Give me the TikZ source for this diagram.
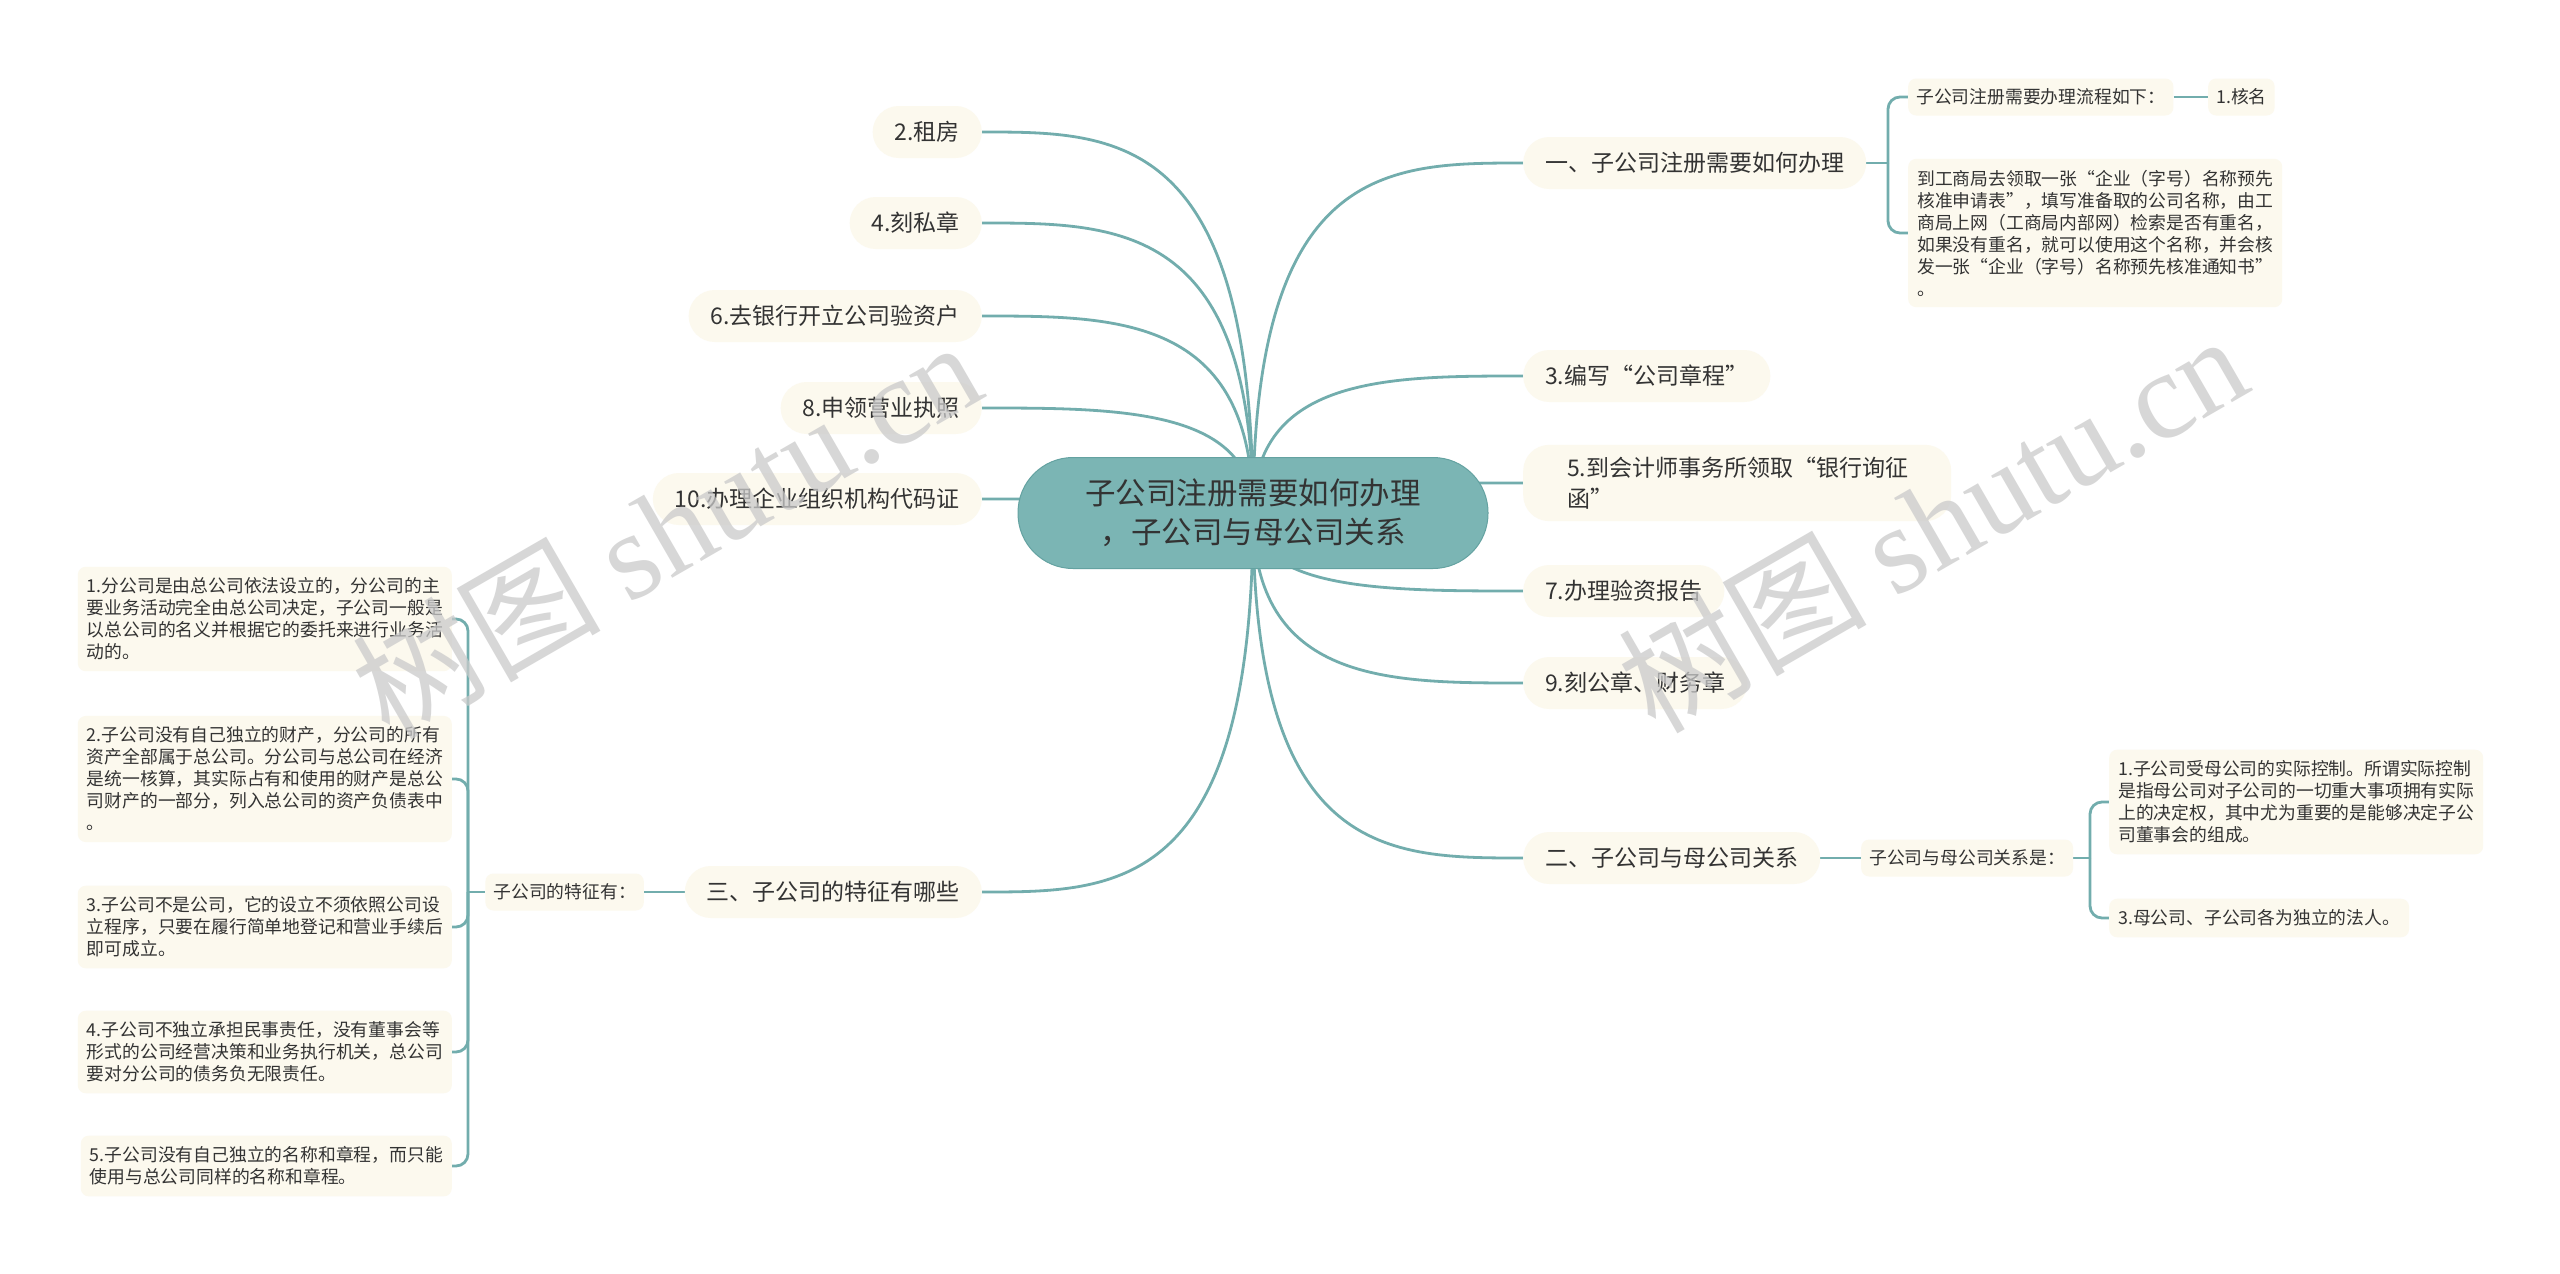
\documentclass[tikz,border=0pt]{standalone}
\usepackage{fontspec}
\setmainfont{Noto Sans CJK SC}
\newfontfamily\wmlatin{Liberation Serif}
\usetikzlibrary{calc,backgrounds}
\definecolor{lineteal}{HTML}{72ADAD}
\definecolor{rootfill}{HTML}{7BB5B4}
\definecolor{rootedge}{HTML}{64A2A1}
\definecolor{cream}{HTML}{FCF9EE}
\definecolor{ink}{HTML}{333333}
\definecolor{wmgray}{HTML}{CACACA}
\tikzset{
  rootnode/.style={fill=rootfill,draw=rootedge,line width=1pt,rounded corners=55pt,
    minimum width=470pt,minimum height=111pt,align=center,text=ink,
    font=\fontsize{30.5}{39}\selectfont},
  topic/.style={fill=cream,rounded corners=26pt,minimum height=52pt,inner xsep=22pt,
    inner ysep=0pt,text=ink,font=\fontsize{23}{31}\selectfont},
  tag/.style={fill=cream,rounded corners=8pt,minimum height=37pt,inner xsep=8pt,
    inner ysep=0pt,text=ink,font=\fontsize{17.8}{22}\selectfont},
  leaf/.style={fill=cream,rounded corners=8pt,inner xsep=9pt,inner ysep=11pt,
    align=left,text=ink,font=\fontsize{17.8}{22}\selectfont},
  branch/.style={draw=lineteal,line width=2.8pt},
  brace/.style={branch,rounded corners=12pt},
  twig/.style={to path={.. controls (\tikztostart |- \tikztotarget)
    and ($(\tikztostart |- \tikztotarget)!.5!(\tikztotarget)$) .. (\tikztotarget)}},
  wmark/.style={text=wmgray,opacity=.75,rotate=30,font=\fontsize{124}{124}\selectfont}
}
\begin{document}
\begin{tikzpicture}[x=1pt,y=-1pt]
\useasboundingbox (0,0) rectangle (2560,1274);
\node[rootnode] (root) at (1253,513) {子公司注册需要如何办理\\，子公司与母公司关系};

\node[topic,anchor=east] (t2) at (982,132) {2.租房};
\node[topic,anchor=east] (t4) at (982,223) {4.刻私章};
\node[topic,anchor=east] (t6) at (982,316) {6.去银行开立公司验资户};
\node[topic,anchor=east] (t8) at (982,408) {8.申领营业执照};
\node[topic,anchor=east] (t10) at (982,499) {10.办理企业组织机构代码证};
\node[topic,anchor=east] (s3) at (982,892) {三、子公司的特征有哪些};

\node[topic,anchor=west] (s1) at (1523,163) {一、子公司注册需要如何办理};
\node[topic,anchor=west] (t3) at (1523,376) {3.编写“公司章程”};
\node[topic,anchor=west,text width=340pt,inner xsep=44pt,inner ysep=12pt,align=left]
  (t5) at (1523,483) {5.到会计师事务所领取“银行询征\\函”};
\node[topic,anchor=west] (t7) at (1523,591) {7.办理验资报告};
\node[topic,anchor=west] (t9) at (1523,683) {9.刻公章、财务章};
\node[topic,anchor=west] (s2) at (1523,858) {二、子公司与母公司关系};

\node[tag,anchor=west] (q1) at (1908,97) {子公司注册需要办理流程如下：};
\node[tag,anchor=west] (k1) at (2208,97) {1.核名};
\node[leaf,anchor=west] (d0) at (1908,233) {到工商局去领取一张“企业（字号）名称预先\\
  核准申请表”，填写准备取的公司名称，由工\\
  商局上网（工商局内部网）检索是否有重名，\\
  如果没有重名，就可以使用这个名称，并会核\\
  发一张“企业（字号）名称预先核准通知书”\\
  。};

\node[tag,anchor=west] (q2) at (1861,858) {子公司与母公司关系是：};
\node[leaf,anchor=west] (da) at (2109,802) {1.子公司受母公司的实际控制。所谓实际控制\\
  是指母公司对子公司的一切重大事项拥有实际\\
  上的决定权，其中尤为重要的是能够决定子公\\
  司董事会的组成。};
\node[leaf,anchor=west] (db) at (2109,918) {3.母公司、子公司各为独立的法人。};

\node[tag,anchor=east] (q3) at (644,892) {子公司的特征有：};
\node[leaf,anchor=east] (d1) at (452,619) {1.分公司是由总公司依法设立的，分公司的主\\
  要业务活动完全由总公司决定，子公司一般是\\
  以总公司的名义并根据它的委托来进行业务活\\
  动的。};
\node[leaf,anchor=east] (d2) at (452,779) {2.子公司没有自己独立的财产，分公司的所有\\
  资产全部属于总公司。分公司与总公司在经济\\
  是统一核算，其实际占有和使用的财产是总公\\
  司财产的一部分，列入总公司的资产负债表中\\
  。};
\node[leaf,anchor=east] (d3) at (452,927) {3.子公司不是公司，它的设立不须依照公司设\\
  立程序，只要在履行简单地登记和营业手续后\\
  即可成立。};
\node[leaf,anchor=east] (d4) at (452,1052) {4.子公司不独立承担民事责任，没有董事会等\\
  形式的公司经营决策和业务执行机关，总公司\\
  要对分公司的债务负无限责任。};
\node[leaf,anchor=east] (d5) at (452,1166) {5.子公司没有自己独立的名称和章程，而只能\\
  使用与总公司同样的名称和章程。};

\coordinate (j1) at (1888,163);
\coordinate (j2) at (2090,858);
\coordinate (j3) at (468,892);

\begin{scope}[on background layer]
\fill[white] (0,0) rectangle (2560,1274);
\draw[branch] (root.center) to[twig] (t2.east);
\draw[branch] (root.center) to[twig] (t4.east);
\draw[branch] (root.center) to[twig] (t6.east);
\draw[branch] (root.center) to[twig] (t8.east);
\draw[branch] (root.center) to[twig] (t10.east);
\draw[branch] (root.center) to[twig] (s3.east);
\draw[branch] (root.center) to[twig] (s1.west);
\draw[branch] (root.center) to[twig] (t3.west);
\draw[branch] (root.center) to[twig] (t5.west);
\draw[branch] (root.center) to[twig] (t7.west);
\draw[branch] (root.center) to[twig] (t9.west);
\draw[branch] (root.center) to[twig] (s2.west);
\draw[branch] (s1.east) -- (j1);
\draw[brace] (j1) |- (q1.west);
\draw[brace] (j1) |- (d0.west);
\draw[branch] (q1.east) -- (k1.west);
\draw[branch] (s2.east) -- (q2.west);
\draw[branch] (q2.east) -- (j2);
\draw[brace] (j2) |- (da.west);
\draw[brace] (j2) |- (db.west);
\draw[branch] (s3.west) -- (q3.east);
\draw[branch] (q3.west) -- (j3);
\draw[brace] (j3) |- (d1.east);
\draw[brace] (j3) |- (d2.east);
\draw[brace] (j3) |- (d3.east);
\draw[brace] (j3) |- (d4.east);
\draw[brace] (j3) |- (d5.east);
\end{scope}

\node[wmark] (wmL) at (666,528) {树图 {\wmlatin shutu.cn}};
\node[wmark] (wmR) at (1932,522) {树图 {\wmlatin shutu.cn}};
\end{tikzpicture}
\end{document}
